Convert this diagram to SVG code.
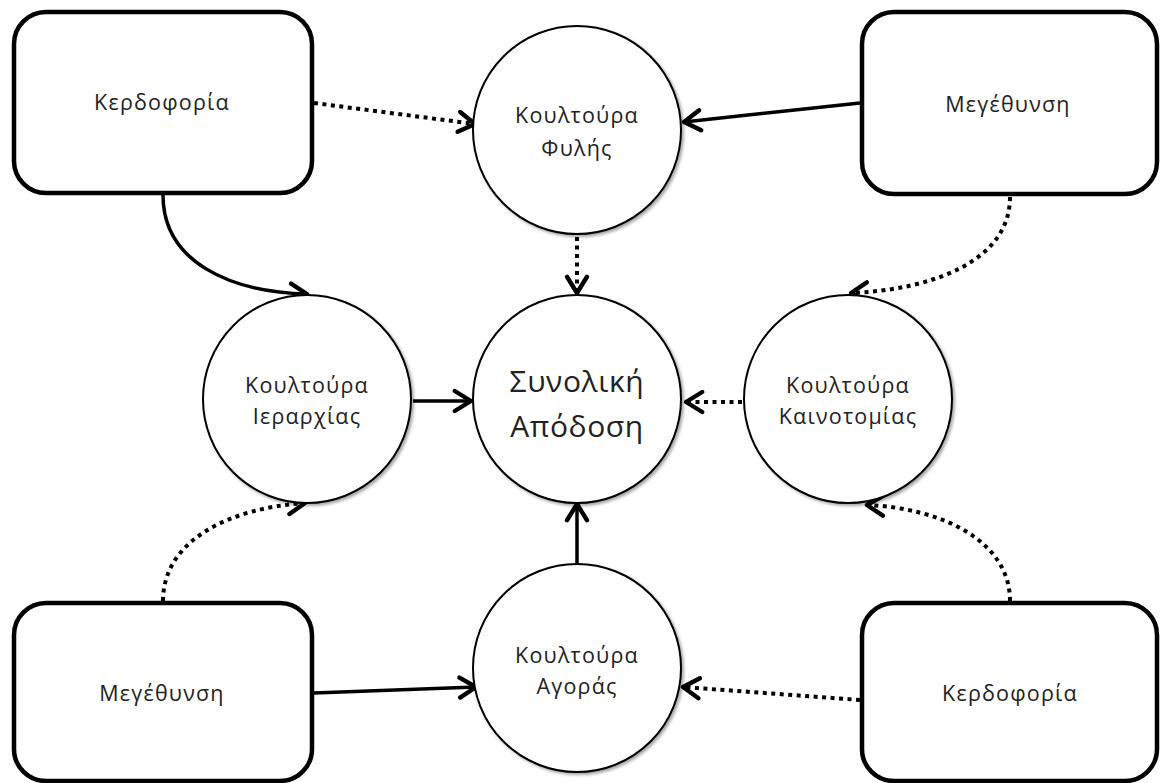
<svg xmlns="http://www.w3.org/2000/svg" width="1162" height="783" viewBox="0 0 1162 783">
<style>
.box{fill:#fff;stroke:#000;stroke-width:4.5}
.circ{fill:#fff;stroke:#000;stroke-width:2}
.lbl{font-family:"Open Sans","Noto Sans","DejaVu Sans",sans-serif;font-size:21.5px;fill:#222;text-anchor:middle;letter-spacing:1.2px}
.big{font-size:30px;letter-spacing:0.6px}
.solid{fill:none;stroke:#000;stroke-width:3.5;marker-end:url(#arr)}
.dot{fill:none;stroke:#000;stroke-width:4;stroke-dasharray:4 4.5;marker-end:url(#arr)}
</style>
<defs>
<marker id="arr" markerUnits="userSpaceOnUse" markerWidth="30" markerHeight="30" viewBox="-16 -12 20 24" refX="0" refY="0" orient="auto">
<path d="M-13,-8 L0,0 L-13,8" fill="none" stroke="#000" stroke-width="3.5" stroke-linecap="round" stroke-linejoin="round"/>
</marker>
<filter id="sh" x="-10%" y="-10%" width="125%" height="125%">
<feDropShadow dx="2" dy="2" stdDeviation="1.5" flood-color="#000" flood-opacity="0.35"/>
</filter>
</defs>
<rect width="1162" height="783" fill="#fff"/>
<g id="connectors">
<path class="dot" d="M314,103 L475,124"/>
<path class="solid" d="M860,103 L684,122"/>
<path class="dot" d="M577,237 L577,293"/>
<path class="solid" d="M163,195 C163,262 230,292 307,294"/>
<path class="solid" d="M413,401 L471,401"/>
<path class="dot" d="M742,402 L686,402"/>
<path class="dot" d="M1010,197 C1010,262 930,290 851,293"/>
<path class="dot" d="M163,601 C163,540 230,508 305,503"/>
<path class="solid" d="M314,693 L476,687"/>
<path class="solid" d="M577,565 L577,504"/>
<path class="dot" d="M860,700 L683,687"/>
<path class="dot" d="M1010,601 C1010,540 940,508 867,505"/>
</g>
<g id="box-kerdoforia-top">
<rect class="box" x="14" y="12" width="298" height="181" rx="32"/>
<text class="lbl" x="162" y="110">Κερδοφορία</text>
</g>
<g id="box-megethynsi-top">
<rect class="box" x="862" y="12" width="295" height="182" rx="32"/>
<text class="lbl" x="1008" y="112">Μεγέθυνση</text>
</g>
<g id="box-megethynsi-bottom">
<rect class="box" x="14" y="603" width="298" height="178" rx="32"/>
<text class="lbl" x="162" y="701">Μεγέθυνση</text>
</g>
<g id="box-kerdoforia-bottom">
<rect class="box" x="862" y="603" width="295" height="178" rx="32"/>
<text class="lbl" x="1010" y="701">Κερδοφορία</text>
</g>
<g id="circle-fylis">
<circle class="circ" cx="577" cy="130" r="104" filter="url(#sh)"/>
<text class="lbl" x="577" y="123">Κουλτούρα</text>
<text class="lbl" x="577" y="156">Φυλής</text>
</g>
<g id="circle-ierarchias">
<circle class="circ" cx="307" cy="399" r="104" filter="url(#sh)"/>
<text class="lbl" x="307" y="393">Κουλτούρα</text>
<text class="lbl" x="307" y="424">Ιεραρχίας</text>
</g>
<g id="circle-synoliki">
<circle class="circ" cx="577" cy="399" r="104" filter="url(#sh)"/>
<text class="lbl big" x="577" y="392">Συνολική</text>
<text class="lbl big" x="577" y="437">Απόδοση</text>
</g>
<g id="circle-kainotomias">
<circle class="circ" cx="848" cy="399" r="104" filter="url(#sh)"/>
<text class="lbl" x="848" y="393">Κουλτούρα</text>
<text class="lbl" x="848" y="424">Καινοτομίας</text>
</g>
<g id="circle-agoras">
<circle class="circ" cx="577" cy="668" r="104" filter="url(#sh)"/>
<text class="lbl" x="577" y="663">Κουλτούρα</text>
<text class="lbl" x="577" y="694">Αγοράς</text>
</g>
</svg>
